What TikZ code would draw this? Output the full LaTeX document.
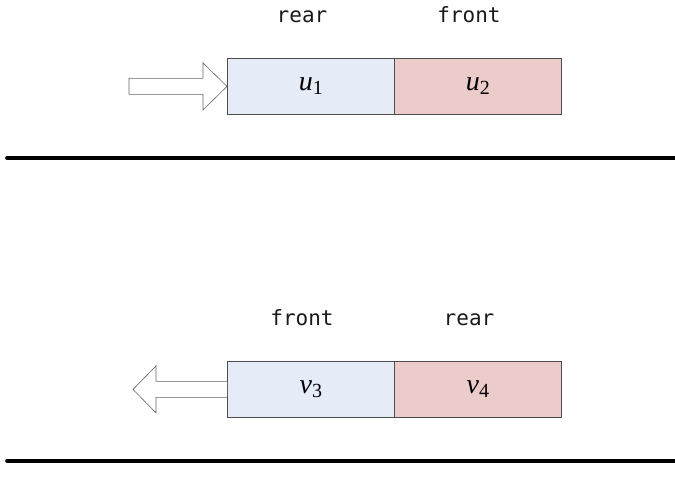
\documentclass[tikz,border=0pt]{standalone}
\usepackage{fontspec}
\setmainfont{Liberation Serif}
\setmonofont{DejaVu Sans Mono}
\begin{document}
\begin{tikzpicture}[x=1pt,y=-1pt,
  cell/.style={draw=black!70,line width=0.8pt,minimum width=167pt,minimum height=56pt,inner sep=0pt,anchor=north west,font=\fontsize{28}{30}\selectfont},
  bluecell/.style={cell,fill={rgb,255:red,230;green,236;blue,247}},
  redcell/.style={cell,fill={rgb,255:red,236;green,203;blue,203}},
  tag/.style={font=\ttfamily\fontsize{21}{24}\selectfont,text=black!90,anchor=base},
  fatarrow/.style={draw=black!60,fill=white,line width=0.6pt,line join=miter},
  track/.style={line width=3.6pt,line cap=round}]
\useasboundingbox (0,0) rectangle (675,497);
\newcommand{\elem}[2]{\textit{#1}\raisebox{-0.32ex}{\fontsize{20}{20}\selectfont #2}}

% upper queue: enqueue at the rear
\node[bluecell] (u1) at (227,58) {\elem{u}{1}};
\node[redcell]  (u2) at (394,58) {\elem{u}{2}};
\node[tag] (rearA)  at (302,23) {rear};
\node[tag] (frontA) at (469,23) {front};
\draw[fatarrow] (u1.west) -- ++(-24,-23.5) -- ++(0,15.5) -- ++(-74,0)
  -- ++(0,16) -- ++(74,0) -- ++(0,15.5) -- cycle;
\coordinate (tA1) at (7,158);
\coordinate (tA2) at (680,158);
\draw[track] (tA1) -- (tA2);

% lower queue: dequeue at the front
\node[bluecell] (v3) at (227,361) {\elem{v}{3}};
\node[redcell]  (v4) at (394,361) {\elem{v}{4}};
\node[tag] (frontB) at (302,325) {front};
\node[tag] (rearB)  at (469,325) {rear};
\draw[fatarrow] (v3.west) ++(0,-8) -- ++(-71,0) -- ++(0,-15.5) -- ++(-23,23.5)
  -- ++(23,23.5) -- ++(0,-15.5) -- ++(71,0);
\coordinate (tB1) at (7,461);
\coordinate (tB2) at (680,461);
\draw[track] (tB1) -- (tB2);
\end{tikzpicture}
\end{document}
